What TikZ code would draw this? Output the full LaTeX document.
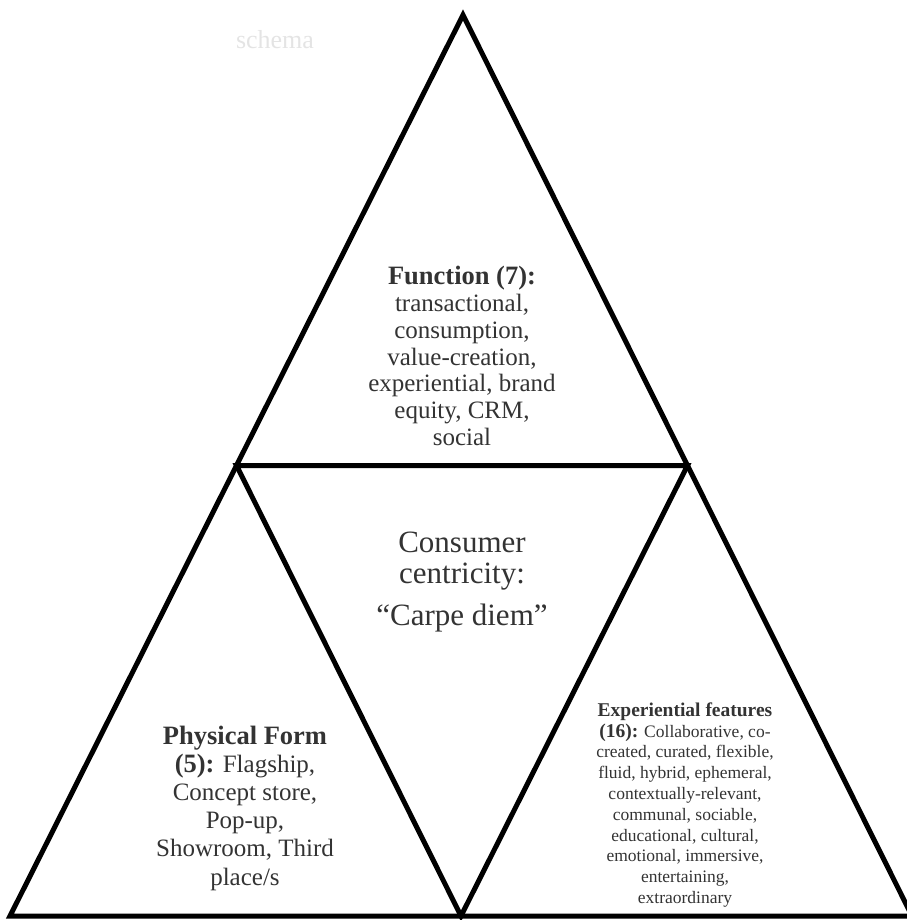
\documentclass[tikz,border=0pt]{standalone}
\usepackage{fontspec}
\setmainfont{Liberation Serif}
\usetikzlibrary{calc}
\definecolor{inkgray}{HTML}{333333}
\definecolor{faintgray}{HTML}{E4E4E4}
\newcommand\boldpart[2]{{\fontsize{#1}{#1}\selectfont\bfseries #2}}
\tikzset{
  edge/.style={line width=5pt, line join=miter},
  label/.style={align=center, inner sep=0pt, text=inkgray},
}
\begin{document}
\begin{tikzpicture}[x=1pt,y=-1pt]
\useasboundingbox (0,0) rectangle (906,920);
% corners of the big triangle
\coordinate (apex) at (463,15);
\coordinate (bl) at (10,916);
\coordinate (br) at (912,916);
\coordinate (ml) at ($(apex)!0.5!(bl)$);
\coordinate (mr) at ($(apex)!0.5!(br)$);
\coordinate (mb) at ($(bl)!0.5!(br)$);

\draw[edge] (apex) -- (bl) -- (br) -- cycle;
\draw[edge] (ml) -- (mr) -- (mb) -- cycle;

\node[text=faintgray, font=\fontsize{26}{28}\selectfont] (tag) at (275,40) {schema};

\node[label, font=\fontsize{25}{26.7}\selectfont] (function) at (462,356)
  {\boldpart{26.5}{Function (7):}\\ transactional,\\ consumption,\\ value-creation,\\
   experiential, brand\\ equity, CRM,\\ social};

\node[label, font=\fontsize{31}{31}\selectfont] (centre) at (462,582)
  {Consumer\\ centricity:\\[11pt] ``Carpe diem''};

\node[label, font=\fontsize{25}{28.2}\selectfont] (form) at (245,808)
  {\boldpart{26.5}{Physical Form}\\ \boldpart{26.5}{(5):} Flagship,\\ Concept store,\\ Pop-up,\\
   Showroom, Third\\ place/s};

\node[label, font=\fontsize{17.5}{20.8}\selectfont] (features) at (685,805)
  {\boldpart{19.5}{Experiential features}\\ \boldpart{19.5}{(16):} Collaborative, co-\\
   created, curated, flexible,\\ fluid, hybrid, ephemeral,\\
   contextually-relevant,\\ communal, sociable,\\ educational, cultural,\\
   emotional, immersive,\\ entertaining,\\ extraordinary};
\end{tikzpicture}
\end{document}
